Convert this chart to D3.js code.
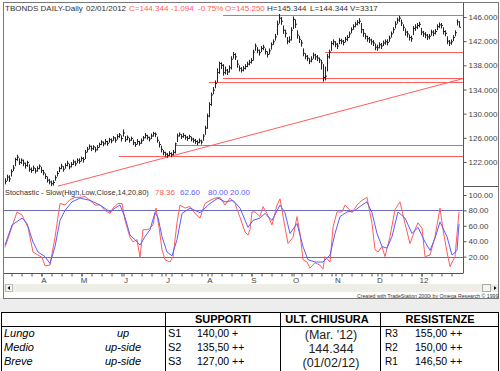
<!DOCTYPE html>
<html>
<head>
<meta charset="utf-8">
<script src="https://cdnjs.cloudflare.com/ajax/libs/d3/7.8.5/d3.min.js"></script>
<style>
    body { margin: 0; background: #fff; }
    svg { display: block; font-family: "Liberation Sans", Arial, sans-serif; }
</style>
</head>
<body>
<div class="container"></div>
<script>
// daily bars, Mar 2011 -> 01/02/2012
var closes = [
    118.8,119.5,119.2,120.4,121.0,122.4,122.8,121.9,122.3,121.8,
    121.4,121.9,120.8,120.6,121.0,120.5,120.9,121.3,120.6,120.2,
    119.6,119.0,118.7,118.4,118.6,119.4,120.1,120.9,121.3,120.8,
    121.4,121.8,121.2,121.6,122.0,121.7,122.3,122.1,122.6,122.4,
    123.6,124.1,124.6,124.2,124.5,124.0,124.4,124.9,125.3,125.0,
    125.4,125.1,125.7,125.5,126.0,125.6,126.2,126.5,125.9,126.8,
    125.7,126.1,125.6,125.9,125.2,124.9,125.4,125.1,125.5,126.0,
    126.4,126.1,125.8,126.3,126.7,126.6,125.6,124.9,124.1,123.6,
    123.3,123.1,123.4,123.2,123.6,125.0,126.3,126.6,126.2,126.4,
    126.1,125.9,126.2,125.8,125.6,125.4,125.2,125.5,125.3,126.3,
    127.6,129.6,131.5,133.1,133.9,135.0,136.8,138.3,138.0,136.8,
    137.2,136.9,137.6,139.0,139.8,139.4,138.2,137.5,137.2,137.5,
    137.8,138.2,138.5,138.8,140.2,141.2,140.5,140.1,140.8,141.0,
    140.3,139.8,140.4,141.4,141.9,142.7,144.8,145.8,145.3,143.8,
    143.3,142.0,142.2,143.8,145.6,144.8,143.0,142.3,141.7,140.0,
    139.5,139.2,138.7,139.0,139.7,139.4,139.2,138.9,138.4,136.0,
    136.2,139.4,140.2,141.6,141.9,141.5,141.2,142.1,142.0,141.8,
    142.3,142.6,143.2,143.9,144.4,144.8,145.1,145.3,143.9,143.3,
    142.8,142.4,142.2,141.9,141.7,141.0,140.9,141.4,141.2,141.7,
    141.9,141.8,142.5,143.2,143.9,144.8,145.5,145.8,145.0,144.3,
    143.5,143.2,142.6,142.4,144.1,144.3,144.6,144.8,143.5,143.2,
    143.0,142.7,142.8,143.5,143.3,143.6,144.4,144.7,144.6,143.6,
    143.3,142.0,141.7,141.9,142.6,143.4,145.2,144.3
];
var highs = [
    119.3,119.9,119.8,120.8,121.5,122.7,123.2,122.6,122.6,122.4,
    121.9,122.2,121.6,121.1,121.4,121.0,121.3,121.6,121.2,120.7,
    120.1,119.6,119.2,118.9,119.0,119.8,120.5,121.2,121.7,121.3,
    121.8,122.2,121.7,122.0,122.4,122.2,122.6,122.6,122.9,122.8,
    124.0,124.5,124.9,124.7,124.8,124.5,124.8,125.2,125.6,125.4,
    125.8,125.5,126.0,125.9,126.3,126.1,126.6,126.8,126.4,127.4,
    126.3,126.4,126.0,126.2,125.7,125.3,125.8,125.5,125.9,126.3,
    126.8,126.5,126.2,126.7,127.0,126.9,126.2,125.4,124.7,124.0,
    123.7,123.5,123.8,123.6,124.0,125.2,126.7,126.9,126.6,126.8,
    126.5,126.3,126.5,126.2,126.0,125.8,125.6,125.9,125.7,126.6,
    128.0,130.0,131.9,133.5,134.4,135.5,137.5,138.6,138.5,138.2,
    137.8,137.4,138.0,139.5,140.2,140.0,138.9,138.0,137.7,137.9,
    138.2,138.6,138.9,139.2,140.6,141.6,141.0,140.6,141.2,141.4,
    140.8,140.3,140.8,141.8,142.3,143.2,145.4,146.5,146.0,144.6,
    143.9,142.7,142.8,144.3,146.1,145.6,143.8,142.9,142.2,140.8,
    140.0,139.7,139.2,139.5,140.1,139.9,139.7,139.3,138.9,138.2,
    137.8,139.9,140.6,142.0,142.3,142.0,141.7,142.5,142.4,142.2,
    142.7,143.0,143.6,144.3,144.8,145.2,145.5,145.8,145.0,144.0,
    143.3,142.9,142.7,142.4,142.2,141.6,141.4,141.8,141.7,142.1,
    142.3,142.3,142.9,143.6,144.3,145.3,145.9,146.2,145.6,144.8,
    144.1,143.7,143.1,142.9,144.5,144.8,145.0,145.2,144.2,143.7,
    143.5,143.2,143.2,143.9,143.8,144.0,144.8,145.1,145.0,144.3,
    143.8,142.8,142.2,142.3,143.0,143.8,145.6,145.3
];
var lows = [
    118.3,118.9,118.7,119.6,120.5,121.3,122.2,121.5,121.7,121.3,
    120.9,121.2,120.4,120.2,120.5,120.1,120.4,120.8,120.2,119.8,
    119.2,118.6,118.3,118.0,118.1,118.9,119.6,120.3,120.8,120.4,
    120.9,121.3,120.8,121.1,121.5,121.3,121.8,121.7,122.1,121.9,
    122.5,123.6,124.1,123.8,124.0,123.6,123.9,124.4,124.8,124.6,
    124.9,124.7,125.2,125.1,125.5,125.2,125.7,126.0,125.4,126.2,
    125.3,125.6,125.2,125.5,124.8,124.5,124.9,124.7,125.0,125.5,
    125.9,125.7,125.4,125.8,126.2,126.1,125.2,124.4,123.6,123.1,
    122.9,122.7,123.0,122.8,123.1,123.4,125.3,126.2,125.8,126.0,
    125.7,125.5,125.8,125.4,125.2,125.0,124.8,125.1,124.9,125.5,
    126.5,127.5,129.4,131.3,133.2,134.2,135.2,136.6,137.4,136.3,
    136.5,136.4,136.8,137.3,139.1,138.9,137.6,137.0,136.8,137.0,
    137.3,137.7,138.0,138.3,138.8,140.4,140.0,139.6,140.2,140.5,
    139.8,139.3,139.8,140.6,141.4,142.1,143.0,144.9,144.7,143.2,
    142.6,141.5,141.7,142.1,144.0,144.2,142.4,141.7,141.1,139.5,
    139.0,138.7,138.2,138.5,139.1,138.9,138.7,138.4,137.3,135.3,
    135.5,137.0,139.1,140.4,141.3,141.0,140.7,141.5,141.5,141.3,
    141.8,142.0,142.6,143.3,143.9,144.3,144.6,144.8,143.3,142.7,
    142.3,141.9,141.7,141.4,141.2,140.5,140.4,140.8,140.7,141.2,
    141.4,141.3,141.9,142.6,143.3,144.1,144.9,145.2,144.5,143.7,
    142.9,142.6,142.1,141.9,143.0,143.7,144.0,144.3,143.0,142.7,
    142.5,142.2,142.3,142.9,142.8,143.1,143.8,144.2,144.1,143.1,
    142.8,141.5,141.2,141.4,142.0,142.8,144.6,144.3
];

var monthStarts = [18, 38, 59, 80, 101, 123, 144, 165, 186, 208];
var monthLabels = ['A', 'M', 'J', 'J', 'A', 'S', 'O', 'N', 'D', '12'];
var priceTicks = [122, 126, 130, 134, 138, 142, 146];
var stochTicks = [20, 40, 60, 80, 100];
var stochBands = [80, 20];

// [day, value]
var stochK = [[0,32],[6,78],[8.5,74],[11.5,58],[14,26],[16.5,22],[18.5,19],[20,8],[22.5,9],[25,45],
    [27.5,89],[30,87],[32.5,94],[35,97],[37.5,97],[40,98],[42.5,93],[45,87],[47.5,87],[50,80],
    [52.5,76],[54,83],[56.5,89],[58.5,89],[60,67],[62.5,45],[64,39],[66,42],[67.5,19],[69,55],
    [71.5,55],[74,61],[75.5,83],[77,58],[78.5,29],[80,16],[82.5,13],[84,20],[86,64],[87.5,87],
    [90,83],[92.5,85],[95,76],[97.5,70],[100,89],[102.5,93],[105,96],[107.5,97],[110,87],[112.5,96],
    [115,89],[117.5,71],[120,52],[121.5,48],[122.5,55],[123.5,78],[125,78],[127.5,72],[129,85],[131,76],
    [133.5,61],[136,87],[137.5,95],[140,58],[141.5,37],[144,45],[146,72],[147.5,50],[149,16],[151,13],
    [152.5,5],[155,12],[157.5,9],[159,4],[160,20],[162.5,13],[164,58],[166,78],[168.5,78],[170,87],
    [171.5,83],[173.5,77],[176,87],[178.5,93],[181,97],[183.5,63],[185,29],[186.5,26],[188.5,33],[190,20],
    [192.5,46],[195,81],[197.5,91],[200,63],[202.5,37],[205,55],[206.5,64],[208.5,57],[210,20],[212.5,22],
    [215,46],[217.5,83],[219,55],[221,26],[222.5,7],[225,20],[227,78.36]];
var stochD = [[0,35],[3.5,61],[8.5,70],[11,63],[14,39],[16.5,26],[20,20],[22.5,11],[25,33],[27.5,67],
    [30,80],[33.5,91],[37.5,96],[42.5,93],[47.5,87],[52.5,78],[55,83],[57.5,87],[60,71],[62.5,48],
    [65,42],[67.5,35],[70,46],[72.5,55],[75,77],[76.5,71],[78.5,46],[81,26],[83.5,21],[86,42],
    [88.5,76],[92.5,83],[97.5,77],[100,83],[102.5,89],[106.5,96],[110,91],[114,93],[117.5,83],[121.5,58],
    [124,67],[127.5,70],[130,76],[133.5,67],[137.5,87],[140,77],[142.5,50],[146,63],[149,33],[151.5,16],
    [155,13],[159,13],[162.5,22],[165,50],[167.5,72],[171,78],[175,80],[178.5,87],[181,91],[183.5,77],
    [186,50],[188.5,33],[191,31],[193.5,46],[196.5,78],[200,70],[203.5,50],[206.5,58],[210,39],[212.5,28],
    [215,44],[217.5,65],[221,46],[223.5,22],[226,28],[227,62.6]];

// horizontal supports/resistances: [price, first day]
var levels = [[146.3, 109], [140.2, 160], [135.9, 109], [135.2, 102], [124.8, 85.5], [123.0, 57]];
var trendLine = [[26.5, 118.0], [229, 135.8]];
var lastDay = 229;

var trendNames = ['Lungo', 'Medio', 'Breve'];
var trendDirs = ['up', 'up-side', 'up-side'];
var supportNames = ['S1', 'S2', 'S3'];
var supportVals = ['140,00 +', '135,50 ++', '127,00 ++'];
var resistNames = ['R3', 'R2', 'R1'];
var resistVals = ['155,00 ++', '150,00 ++', '146,50 ++'];
var closeInfo = ["(Mar. '12)", '144.344', '(01/02/12)'];

var drawChart = function () {
    var WIDTH = 500, HEIGHT = 371;
    var AXIS_X = 463;
    var RED = '#ff5c5c', BLUE = '#5c5cff', GREY = '#333';

    var svg = d3.select('.container').append('svg')
        .attr('width', WIDTH).attr('height', HEIGHT);

    var xScale = d3.scaleLinear().domain([0, 228]).range([5, 461]);
    var yPrice = d3.scaleLinear().domain([122, 146]).range([162, 17]);
    var yStoch = d3.scaleLinear().domain([0, 100]).range([272, 195]);

    // background band + frame
    svg.append('rect').attr('x', 0).attr('y', 298).attr('width', WIDTH).attr('height', 14).attr('fill', '#ededed');
    svg.append('rect').attr('x', 3.5).attr('y', 2.5).attr('width', 495).attr('height', 296)
        .attr('fill', 'none').attr('stroke', '#777');

    // red level lines
    svg.append('g').selectAll('line').data(levels).enter().append('line')
        .attr('x1', function (d) { return xScale(d[1]); })
        .attr('x2', xScale(lastDay))
        .attr('y1', function (d) { return Math.round(yPrice(d[0])) + 0.5; })
        .attr('y2', function (d) { return Math.round(yPrice(d[0])) + 0.5; })
        .attr('stroke', RED).attr('stroke-width', 1);

    svg.append('path')
        .attr('d', d3.line().x(function (d) { return xScale(d[0]); }).y(function (d) { return yPrice(d[1]); })(trendLine))
        .attr('fill', 'none').attr('stroke', RED).attr('stroke-width', 1);

    // price bars
    var bars = svg.append('g').attr('stroke', '#222').attr('stroke-width', 1);
    bars.selectAll('line.hl').data(closes).enter().append('line').attr('class', 'hl')
        .attr('x1', function (d, i) { return xScale(i) + 0.5; })
        .attr('x2', function (d, i) { return xScale(i) + 0.5; })
        .attr('y1', function (d, i) { return yPrice(highs[i]); })
        .attr('y2', function (d, i) { return yPrice(lows[i]); });
    bars.selectAll('line.cl').data(closes).enter().append('line').attr('class', 'cl')
        .attr('x1', function (d, i) { return xScale(i) + 0.5; })
        .attr('x2', function (d, i) { return xScale(i) + 2; })
        .attr('y1', function (d) { return yPrice(d); })
        .attr('y2', function (d) { return yPrice(d); });

    // stochastic
    svg.append('g').selectAll('line').data(stochBands).enter().append('line')
        .attr('x1', 4).attr('x2', AXIS_X)
        .attr('y1', function (d) { return Math.round(yStoch(d)) + 0.5; })
        .attr('y2', function (d) { return Math.round(yStoch(d)) + 0.5; })
        .attr('stroke', '#6b6bb8');

    var stochLine = d3.line()
        .x(function (d) { return xScale(d[0]); })
        .y(function (d) { return yStoch(d[1]); });
    svg.append('path').attr('d', stochLine(stochK)).attr('fill', 'none').attr('stroke', RED).attr('stroke-width', 1);
    svg.append('path').attr('d', stochLine(stochD)).attr('fill', 'none').attr('stroke', BLUE).attr('stroke-width', 1);

    // axes
    svg.append('line').attr('x1', AXIS_X + 0.5).attr('x2', AXIS_X + 0.5).attr('y1', 3).attr('y2', 273.5).attr('stroke', '#555');
    svg.append('line').attr('x1', 4).attr('x2', AXIS_X).attr('y1', 273.5).attr('y2', 273.5).attr('stroke', '#555');
    svg.append('line').attr('x1', AXIS_X).attr('x2', 498).attr('y1', 186.5).attr('y2', 186.5).attr('stroke', '#555');

    var styleAxis = function (g) {
        g.select('.domain').remove();
        g.attr('font-size', 8).attr('font-family', '"Liberation Sans", Arial, sans-serif');
        g.selectAll('.tick line').attr('stroke', '#555');
        g.selectAll('.tick text').attr('fill', '#444');
    };

    svg.append('g').attr('transform', 'translate(' + (AXIS_X + 0.5) + ',0)')
        .call(d3.axisRight(yPrice).tickValues(priceTicks).tickSize(3).tickPadding(2).tickFormat(d3.format('.3f')))
        .call(styleAxis);
    svg.append('g').attr('transform', 'translate(' + (AXIS_X + 0.5) + ',0)')
        .call(d3.axisRight(yStoch).tickValues(stochTicks).tickSize(3).tickPadding(2).tickFormat(d3.format('.2f')))
        .call(styleAxis);

    svg.append('g').attr('transform', 'translate(0.5,273.5)')
        .call(d3.axisBottom(xScale).tickValues(d3.range(3, 228, 5)).tickSize(3).tickFormat(''))
        .call(styleAxis);
    svg.append('g').attr('transform', 'translate(0.5,273.5)')
        .call(d3.axisBottom(xScale).tickValues(monthStarts).tickSize(3).tickPadding(1)
            .tickFormat(function (d, i) { return monthLabels[i]; }))
        .call(styleAxis)
        .selectAll('.tick text').attr('dx', 2);

    // header texts
    var header = svg.append('g').attr('font-size', 8);
    header.append('text').attr('x', 5).attr('y', 11).attr('fill', GREY).text('TBONDS DAILY-Daily');
    header.append('text').attr('x', 86).attr('y', 11).attr('fill', GREY).text('02/01/2012');
    header.append('text').attr('x', 129).attr('y', 11).attr('fill', RED).text('C=144.344');
    header.append('text').attr('x', 171).attr('y', 11).attr('fill', RED).text('-1.094');
    header.append('text').attr('x', 198).attr('y', 11).attr('fill', RED).text('-0.75%');
    header.append('text').attr('x', 225).attr('y', 11).attr('fill', RED).text('O=145.250');
    header.append('text').attr('x', 267).attr('y', 11).attr('fill', GREY).text('H=145.344');
    header.append('text').attr('x', 310).attr('y', 11).attr('fill', GREY).text('L=144.344');
    header.append('text').attr('x', 350).attr('y', 11).attr('fill', GREY).text('V=3317');

    header.append('text').attr('x', 5).attr('y', 194.5).attr('fill', GREY).attr('font-size', 7.4)
        .text('Stochastic - Slow(High,Low,Close,14,20,80)');
    header.append('text').attr('x', 155).attr('y', 194.5).attr('fill', RED).text('78.36');
    header.append('text').attr('x', 180).attr('y', 194.5).attr('fill', BLUE).text('62.60');
    header.append('text').attr('x', 208).attr('y', 194.5).attr('fill', BLUE).text('80.00');
    header.append('text').attr('x', 230).attr('y', 194.5).attr('fill', BLUE).text('20.00');

    // scrollbar
    svg.append('rect').attr('x', 4).attr('y', 284).attr('width', 494).attr('height', 8).attr('fill', '#efeee6');
    svg.append('rect').attr('x', 5.5).attr('y', 284.5).attr('width', 7).attr('height', 7).attr('fill', '#f4f3ee').attr('stroke', '#bbb');
    svg.append('path').attr('d', 'M7.5,288 L10,286 L10,290 Z').attr('fill', '#000');
    svg.append('rect').attr('x', 482.5).attr('y', 284.5).attr('width', 8).attr('height', 7).attr('fill', '#f4f3ee').attr('stroke', '#aaa');
    svg.append('path').attr('d', 'M494,286 L496.5,288 L494,290 Z').attr('fill', '#000');
    svg.append('text').attr('x', 357).attr('y', 297.5).attr('font-size', 5.2).attr('fill', '#333')
        .text('Created with TradeStation 2000i by Omega Research \u00a9 1999');

    // table
    var table = svg.append('g').attr('stroke', '#000').attr('stroke-width', 1);
    table.append('line').attr('x1', 1).attr('x2', 499).attr('y1', 312.5).attr('y2', 312.5);
    table.append('line').attr('x1', 1).attr('x2', 499).attr('y1', 326.5).attr('y2', 326.5);
    [1.5, 165.5, 280.5, 380.5, 498.5].forEach(function (x) {
        table.append('line').attr('x1', x).attr('x2', x).attr('y1', 312).attr('y2', 371);
    });

    var tt = svg.append('g').attr('fill', '#000');
    tt.append('text').attr('x', 223).attr('y', 323).attr('text-anchor', 'middle').attr('font-size', 11).attr('font-weight', 'bold').text('SUPPORTI');
    tt.append('text').attr('x', 327).attr('y', 323).attr('text-anchor', 'middle').attr('font-size', 11).attr('font-weight', 'bold').text('ULT. CHIUSURA');
    tt.append('text').attr('x', 440).attr('y', 323).attr('text-anchor', 'middle').attr('font-size', 11).attr('font-weight', 'bold').text('RESISTENZE');

    var rowY = d3.scaleLinear().domain([0, 1]).range([337, 351]);
    trendNames.forEach(function (name, i) {
        tt.append('text').attr('x', 4).attr('y', rowY(i)).attr('font-size', 11).attr('font-style', 'italic').text(name);
        tt.append('text').attr('x', 123).attr('y', rowY(i)).attr('font-size', 11).attr('font-style', 'italic')
            .attr('text-anchor', 'middle').text(trendDirs[i]);
        tt.append('text').attr('x', 168).attr('y', rowY(i)).attr('font-size', 11).text(supportNames[i]);
        tt.append('text').attr('x', 197).attr('y', rowY(i)).attr('font-size', 10.5).text(supportVals[i]);
        tt.append('text').attr('x', 385).attr('y', rowY(i) - 0.5).attr('font-size', 10).text(resistNames[i]);
        tt.append('text').attr('x', 415).attr('y', rowY(i) - 0.5).attr('font-size', 10.5).text(resistVals[i]);
        tt.append('text').attr('x', 331).attr('y', rowY(i) + 1.5).attr('font-size', 12.5)
            .attr('text-anchor', 'middle').attr('fill', '#222').text(closeInfo[i]);
    });
};

window.onload = drawChart;
</script>
</body>
</html>
